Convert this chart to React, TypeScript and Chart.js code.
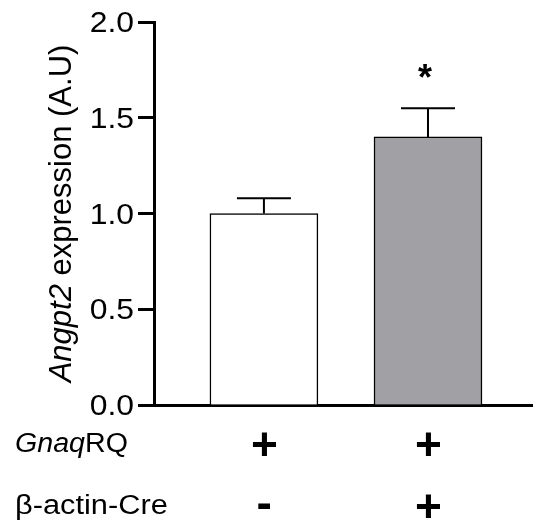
import React, { useEffect, useRef } from 'react';
import { Chart, registerables } from 'chart.js';

Chart.register(...registerables);

// ---- data ----
const groups = ['GnaqRQ+ β-actin-Cre-', 'GnaqRQ+ β-actin-Cre+'];
const means = [1.0, 1.4];
const sems = [0.08, 0.15];
const fills = ['#ffffff', '#a1a0a5'];
const significance = ['', '*'];
const yTicks = [0, 0.5, 1.0, 1.5, 2.0];
const gnaqRow = ['+', '+'];
const creRow = ['-', '+'];
const gnaqLabel = [
  { text: 'Gnaq', italic: true },
  { text: 'RQ', italic: false },
];
const creLabel = [{ text: 'β-actin-Cre', italic: false }];
const yTitle = [
  { text: 'Angpt2', italic: true },
  { text: ' expression (A.U)', italic: false },
];

const FAMILY = '"Liberation Sans", Arial, Helvetica, sans-serif';

type Seg = { text: string; italic?: boolean };

function fontFor(seg: Seg, size: number, weight = 'normal') {
  return `${seg.italic ? 'italic ' : ''}${weight} ${size}px ${FAMILY}`;
}

function drawSegs(
  ctx: CanvasRenderingContext2D,
  segs: Seg[],
  x: number,
  cy: number,
  size: number,
  align: 'left' | 'right' | 'center',
  sx: number,
  rotate = false
) {
  ctx.save();
  ctx.font = fontFor({ text: 'H' }, size);
  const capH = ctx.measureText('H').actualBoundingBoxAscent;
  const widths = segs.map((s) => {
    ctx.font = fontFor(s, size);
    return ctx.measureText(s.text).width;
  });
  const total = widths.reduce((a, b) => a + b, 0);
  ctx.translate(x, cy);
  if (rotate) ctx.rotate(-Math.PI / 2);
  ctx.scale(sx, 1);
  let start = align === 'left' ? 0 : align === 'right' ? -total : -total / 2;
  ctx.textAlign = 'left';
  ctx.textBaseline = 'alphabetic';
  ctx.fillStyle = '#000';
  segs.forEach((s, i) => {
    ctx.font = fontFor(s, size);
    ctx.fillText(s.text, start, capH / 2);
    start += widths[i];
  });
  ctx.restore();
}

function drawInk(
  ctx: CanvasRenderingContext2D,
  text: string,
  cx: number,
  cy: number,
  font: string
) {
  ctx.save();
  ctx.font = font;
  ctx.textAlign = 'left';
  ctx.textBaseline = 'alphabetic';
  ctx.fillStyle = '#000';
  const m = ctx.measureText(text);
  const x = cx - (m.actualBoundingBoxRight - m.actualBoundingBoxLeft) / 2;
  const y = cy + (m.actualBoundingBoxAscent - m.actualBoundingBoxDescent) / 2;
  ctx.fillText(text, x, y);
  ctx.restore();
}

const overlay = {
  id: 'overlay',
  afterDatasetsDraw(chart: any) {
    const ctx: CanvasRenderingContext2D = chart.ctx;
    const xs = chart.scales.x;
    const ys = chart.scales.y;
    ctx.save();
    ctx.strokeStyle = '#000';
    ctx.lineWidth = 2;
    means.forEach((m, i) => {
      const cx = xs.getPixelForValue(i);
      const yBase = ys.getPixelForValue(m);
      const yTop = ys.getPixelForValue(m + sems[i]);
      ctx.beginPath();
      ctx.moveTo(cx, yBase);
      ctx.lineTo(cx, yTop);
      ctx.moveTo(cx - 27, yTop);
      ctx.lineTo(cx + 27, yTop);
      ctx.stroke();
      if (significance[i]) {
        drawInk(ctx, significance[i], cx - 3, yTop - 37, `bold 36px ${FAMILY}`);
      }
    });
    ctx.restore();
  },
  afterDraw(chart: any) {
    const ctx: CanvasRenderingContext2D = chart.ctx;
    const xs = chart.scales.x;
    const ys = chart.scales.y;
    const area = chart.chartArea;
    // y tick labels
    yTicks.forEach((v) => {
      drawSegs(ctx, [{ text: v.toFixed(1) }], area.left - 20, ys.getPixelForValue(v), 29, 'right', 1.1);
    });
    // y title
    drawSegs(ctx, yTitle, 59.5, (area.top + area.bottom) / 2, 31, 'center', 1, true);
    // rows under the axis
    const row1 = area.bottom + 37;
    const row2 = area.bottom + 99;
    drawSegs(ctx, gnaqLabel, 15, row1, 27, 'left', 1.06);
    drawSegs(ctx, creLabel, 15, row2, 27, 'left', 1.14);
    gnaqRow.forEach((s, i) => {
      drawInk(ctx, s, xs.getPixelForValue(i), row1 + 2, `bold 46px ${FAMILY}`);
    });
    creRow.forEach((s, i) => {
      drawInk(ctx, s, xs.getPixelForValue(i), row2 + 2, `bold 46px ${FAMILY}`);
    });
  },
};

export default function App() {
  const ref = useRef<HTMLCanvasElement>(null);
  useEffect(() => {
    if (!ref.current) return;
    const chart = new Chart(ref.current, {
      type: 'bar',
      data: {
        datasets: [
          {
            label: groups.join(' vs '),
            data: means.map((m, i) => ({ x: i, y: m })) as any,
            backgroundColor: fills,
            borderColor: '#000',
            borderWidth: 1.5,
            barThickness: 108,
            borderSkipped: 'bottom',
          },
        ],
      },
      options: {
        animation: false,
        responsive: false,
        maintainAspectRatio: false,
        layout: { padding: { top: 22, right: 0, left: 0, bottom: 0 } },
        plugins: {
          legend: { display: false },
          tooltip: { enabled: false },
        },
        scales: {
          x: {
            type: 'linear',
            offset: false,
            min: -0.67,
            max: 1.64,
            grid: { display: false, drawTicks: false, offset: false },
            ticks: { display: false },
            border: { display: true, width: 3, color: '#000' },
            afterBuildTicks: (s: any) => {
              s.ticks = means.map((_, i) => ({ value: i }));
            },
            afterFit: (s: any) => {
              s.height = 122;
            },
          },
          y: {
            min: 0,
            max: 2,
            grid: {
              drawOnChartArea: false,
              drawTicks: true,
              tickLength: 16,
              tickWidth: 3,
              tickColor: '#000',
            },
            border: { display: true, width: 3, color: '#000' },
            ticks: { display: false },
            afterBuildTicks: (s: any) => {
              s.ticks = yTicks.map((v) => ({ value: v }));
            },
            afterFit: (s: any) => {
              s.width = 154;
            },
          },
        },
      } as any,
      plugins: [overlay],
    });
    return () => chart.destroy();
  }, []);
  return (
    <div style={{ position: 'absolute', left: 0, top: 0, width: 533, height: 527, background: '#fff' }}>
      <canvas ref={ref} width={533} height={527} style={{ display: 'block' }} />
    </div>
  );
}
